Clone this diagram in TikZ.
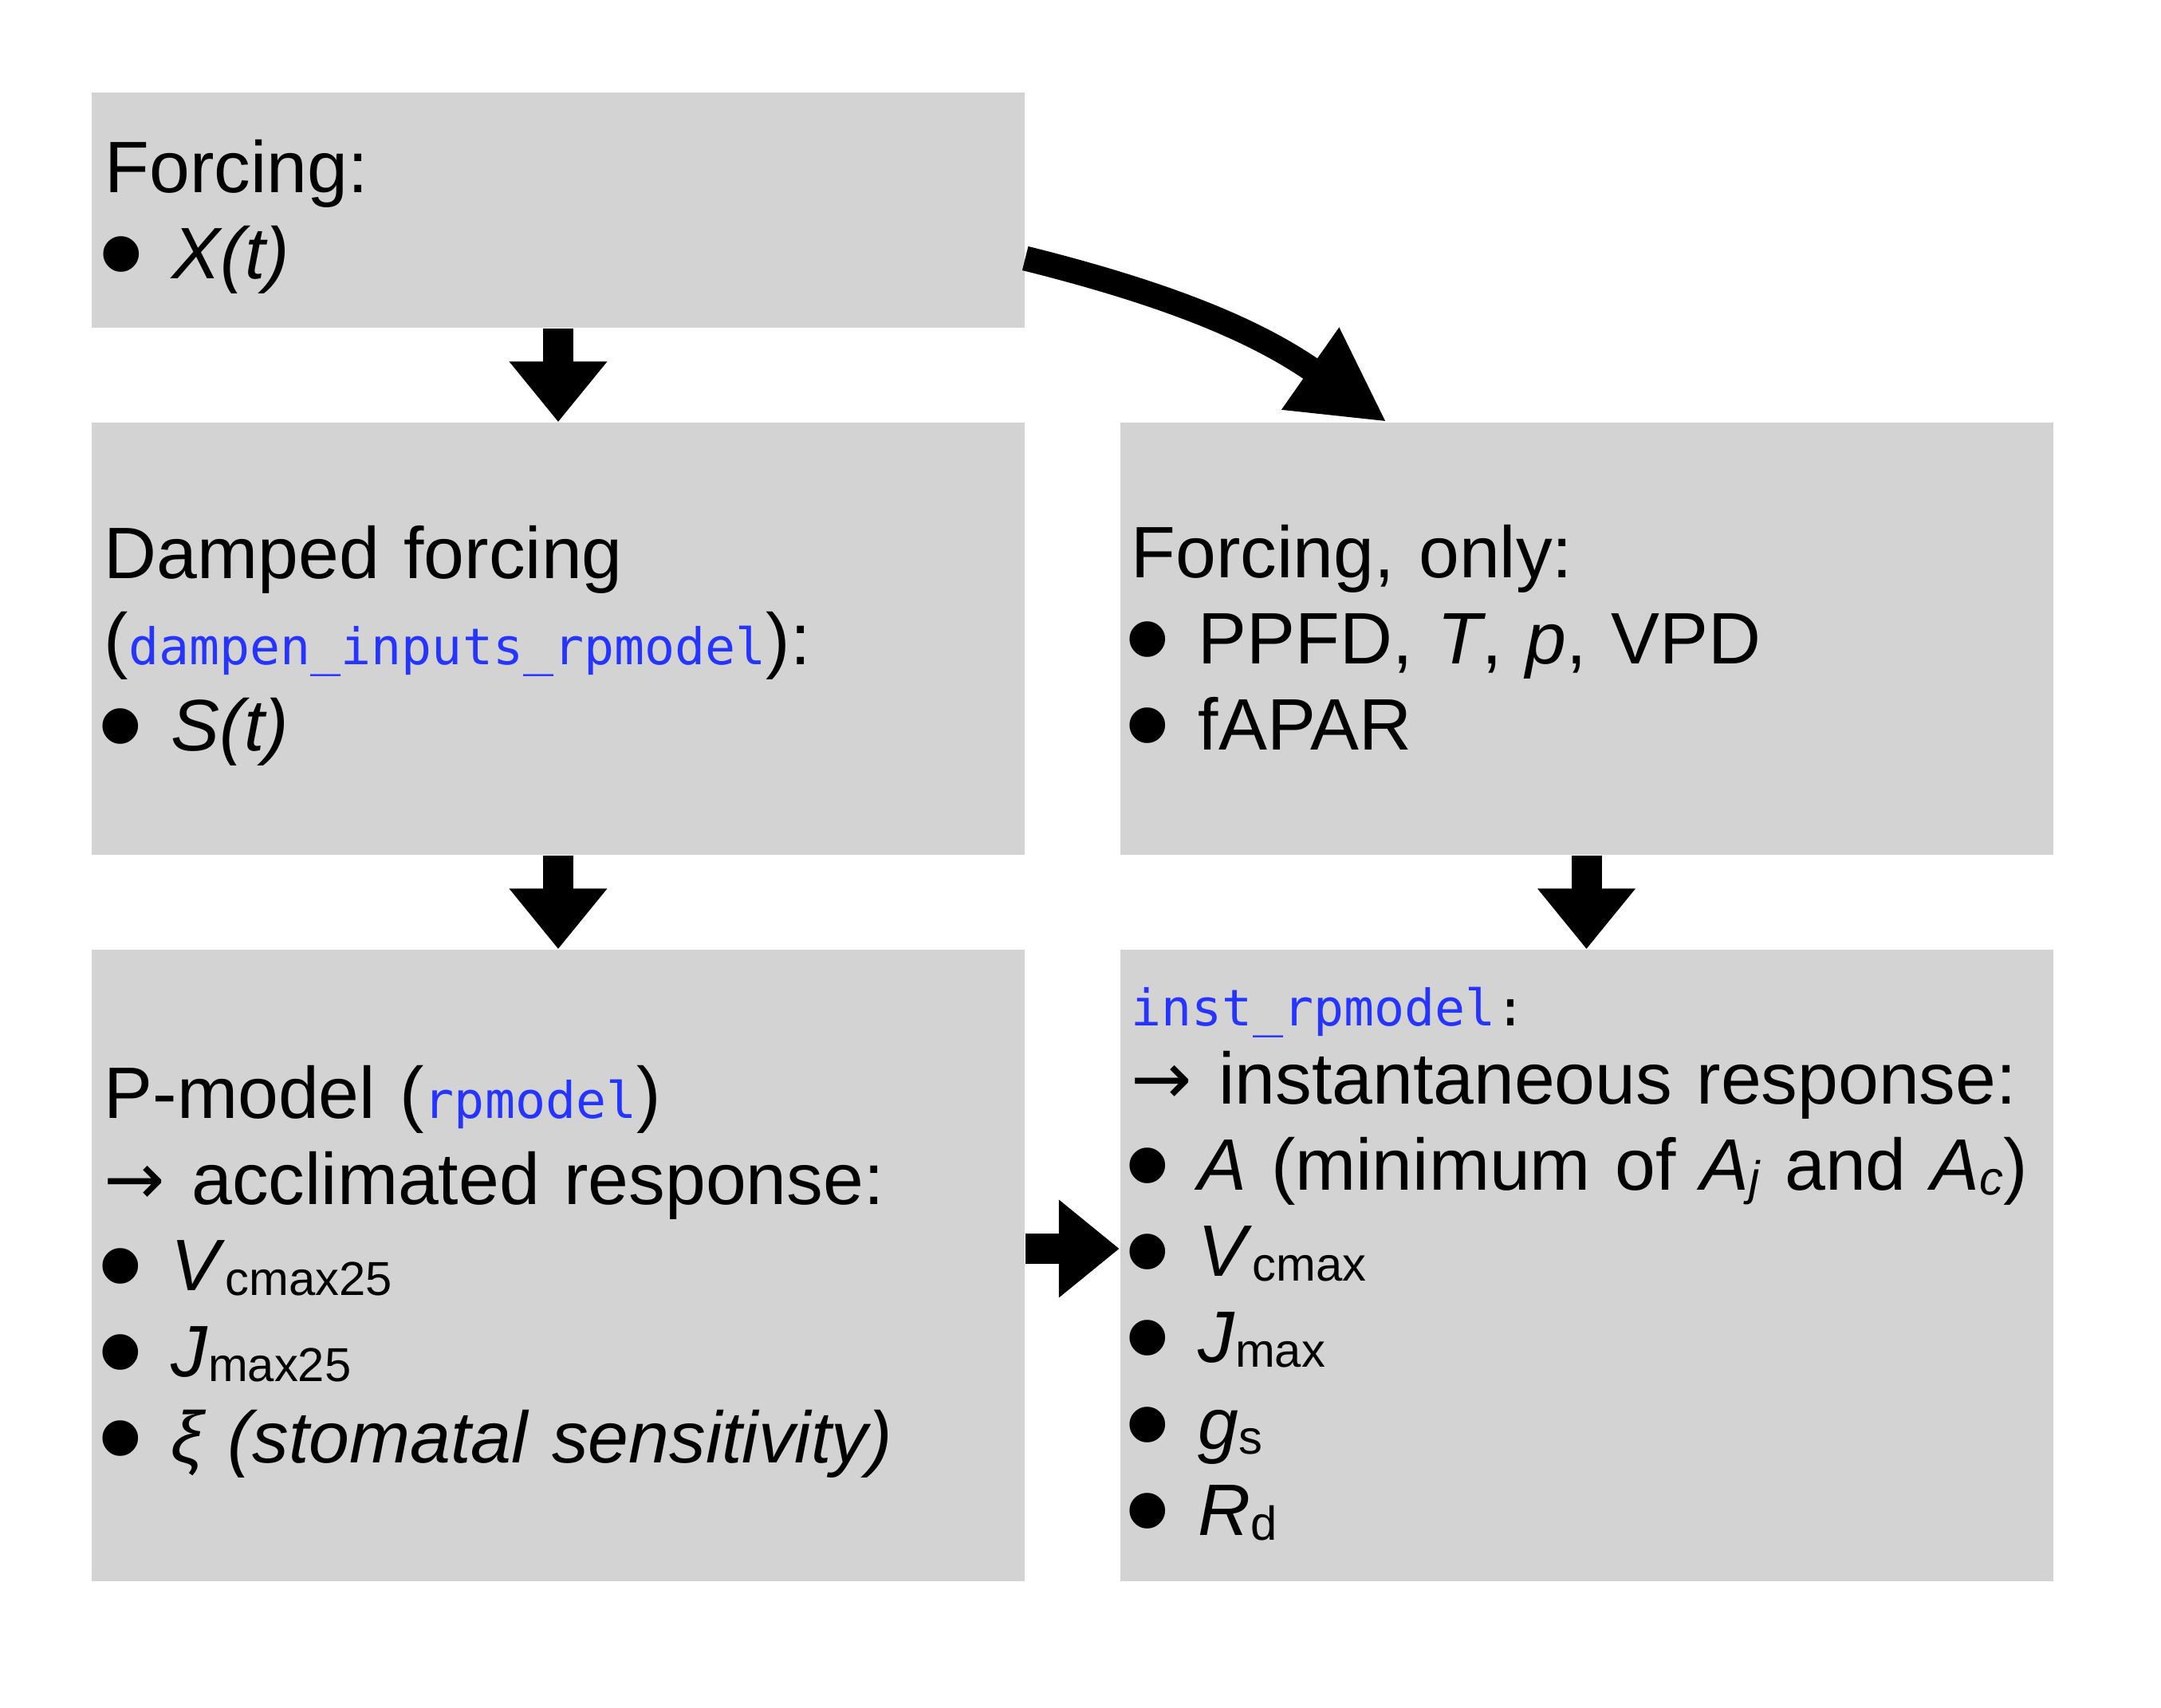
\documentclass[tikz,border=0pt]{standalone}
\usepackage{fontspec}
\setmainfont{Liberation Sans}
\setmonofont{DejaVu Sans Mono}
\newfontfamily\arrowfont{DejaVu Sans}
\usepackage{graphicx}
\usetikzlibrary{arrows.meta}

\definecolor{boxgray}{RGB}{211,211,211}
\definecolor{codeblue}{RGB}{38,52,255}

\newcommand{\code}[1]{{\fontsize{18}{18}\selectfont\ttfamily\color{codeblue}#1}}
\newcommand{\bul}{\makebox[0.84cm][l]{\hspace*{-0.08cm}\raisebox{-0.24cm}{\scalebox{1.8}{•}}}}
\newcommand{\lowsub}[1]{\raisebox{-0.06cm}{\fontsize{17}{17}\selectfont #1}}
\newcommand{\resp}{{\arrowfont →}\hspace{0.33cm}}

\tikzset{
  box/.style={fill=boxgray, minimum width=11.7cm, inner sep=0pt},
  txt/.style={anchor=base west, inner sep=0pt, text width=11.4cm, align=left,
    font=\fontsize{26}{30.73}\selectfont},
  blockarrow/.style={line width=0.38cm, -{Triangle[length=0.76cm, width=1.18cm]}},
  bentarrow/.style={line width=0.31cm, -{Triangle[length=1.17cm, width=1.17cm]}},
}

\begin{document}
\begin{tikzpicture}
\useasboundingbox (0,0) rectangle (27.1,21.42);

% boxes
\node (forcing) at (7.0,18.785) [box, minimum height=2.95cm] {};
\node (damped) at (7.0,13.41) [box, minimum height=5.42cm] {};
\node (forconly) at (19.895,13.41) [box, minimum height=5.42cm] {};
\node (pmodel) at (7.0,5.55) [box, minimum height=7.92cm] {};
\node (inst) at (19.895,5.55) [box, minimum height=7.92cm] {};

% texts
\node (forcing-txt) at (1.31,19.00) [txt] {Forcing:\\
  \bul\textit{X(t)}};
\node (damped-txt) at (1.30,14.16) [txt] {Damped forcing\\
  (\code{dampen\_inputs\_rpmodel}):\\
  \bul\textit{S(t)}};
\node (forconly-txt) at (14.18,14.17) [txt] {Forcing, only:\\
  \bul PPFD, \textit{T}, \textit{p}, VPD\\
  \bul fAPAR};
\node (pmodel-txt) at (1.30,7.39) [txt] {P-model (\code{rpmodel})\\
  \resp acclimated response:\\
  \bul\textit{V}\lowsub{cmax25}\\
  \bul\textit{J}\lowsub{max25}\\
  \bul\textit{ξ (stomatal sensitivity)}};
\node (inst-txt) at (14.18,8.55) [txt] {\code{inst\_rpmodel}{\fontsize{18}{18}\selectfont\ttfamily :}\\[-0.1cm]
  \resp instantaneous response:\\
  \bul\textit{A} (minimum of \textit{A}\lowsub{\textit{j}} and \textit{A}\lowsub{\textit{c}})\\
  \bul\textit{V}\lowsub{cmax}\\
  \bul\textit{J}\lowsub{max}\\
  \bul\textit{g}\lowsub{s}\\
  \bul\textit{R}\lowsub{d}};

% arrows
\draw [blockarrow] (forcing.south) -- (damped.north);
\draw [blockarrow] (damped.south) -- (pmodel.north);
\draw [blockarrow] (forconly.south) -- (inst.north);
\draw [blockarrow] ([yshift=0.21cm]pmodel.east) -- ([yshift=0.21cm]inst.west);
\draw [bentarrow] ([yshift=-0.605cm]forcing.east) to[out=-14, in=145] ([xshift=-2.505cm]forconly.north);
\end{tikzpicture}
\end{document}
